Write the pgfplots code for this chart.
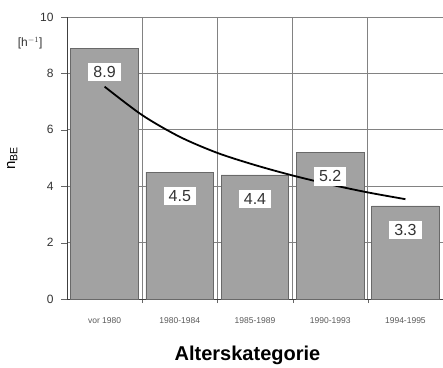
\documentclass[border=0pt]{standalone}
\usepackage{fontspec}
\setmainfont{Liberation Sans}
\usepackage{pgfplots}
\pgfplotsset{compat=1.18}
\definecolor{barfill}{RGB}{162,162,162}
\definecolor{bardraw}{RGB}{105,105,105}
\definecolor{gridc}{RGB}{130,130,130}
\begin{document}
\begin{tikzpicture}[x=1pt,y=1pt]
\path[use as bounding box] (0,0) rectangle (443,367);
\begin{axis}[
  at={(67pt,68pt)}, anchor=south west,
  scale only axis, width=376pt, height=282pt,
  xmin=-0.5, xmax=4.5, ymin=0, ymax=10,
  axis lines*=left,
  axis line style={draw=black!75, line width=1pt},
  xtick={0,1,2,3,4},
  xticklabels={vor 1980,1980-1984,1985-1989,1990-1993,1994-1995},
  minor xtick={0.5,1.5,2.5,3.5,4.5},
  xminorgrids=true,
  ytick={0,2,4,6,8,10},
  ymajorgrids=true,
  grid style={draw=gridc, line width=0.9pt},
  minor grid style={draw=gridc, line width=0.9pt},
  major x tick style={draw=none},
  minor x tick style={draw=black!60},
  minor tick length=4pt,
  ytick style={draw=black!60},
  major tick length=6pt,
  tick align=outside,
  /pgf/number format/assume math mode=true,
  yticklabel style={font=\fontsize{12}{14}\selectfont, text=black!80, xshift=-4pt},
  xticklabel style={font=\fontsize{8.5}{10}\selectfont, text=black!65, yshift=-9pt},
  xlabel={\textbf{Alterskategorie}},
  xlabel style={font=\fontsize{20}{24}\selectfont, at={(axis description cs:0.48,-0.2)}, anchor=center},
  ylabel={n\textsubscript{BE}},
  ylabel style={font=\fontsize{15}{17}\selectfont, at={(axis description cs:-0.146,0.5)}, anchor=center},
  clip=false,
]
\addplot[ybar, bar width=0.9, fill=barfill, draw=bardraw, line width=0.8pt,
  nodes near coords,
  every node near coord/.append style={anchor=center, yshift=-24pt, fill=white,
    inner xsep=5pt, inner ysep=3.5pt, font=\fontsize{16}{18}\selectfont, text=black!80},
  nodes near coords={\pgfmathprintnumber[fixed, fixed zerofill, precision=1]{\pgfplotspointmeta}}]
  coordinates {(0,8.9) (1,4.5) (2,4.4) (3,5.2) (4,3.3)};
\addplot[black, line width=1.8pt, smooth, no markers]
  coordinates {(0,7.53) (0.5,6.52) (1,5.75) (1.5,5.18) (2,4.75) (2.5,4.38) (3,4.06) (3.5,3.78) (4,3.54)};
\node[font=\fontsize{12}{14}\selectfont, text=black!80] at (axis description cs:-0.098,0.908) {[h$^{-1}$]};
\end{axis}
\end{tikzpicture}
\end{document}
